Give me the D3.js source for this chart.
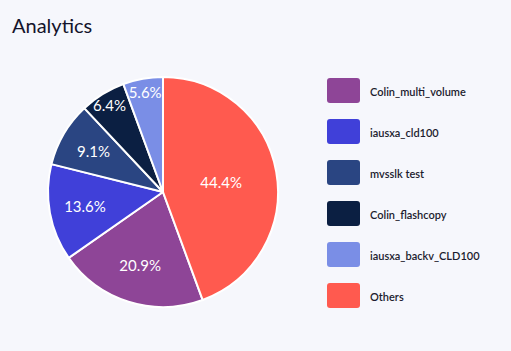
<!DOCTYPE html>
<html>
<head>
<meta charset="utf-8">
<script src="https://cdn.jsdelivr.net/npm/d3@7"></script>
<style>
  html, body { margin: 0; padding: 0; background: #f6f7fc; }
  #chart { width: 511px; height: 351px; }
  text { font-family: Lato, "Open Sans", sans-serif; }
</style>
</head>
<body>
<div id="chart"></div>
<script>
// data
const categories = ['Colin_multi_volume', 'iausxa_cld100', 'mvsslk test', 'Colin_flashcopy', 'iausxa_backv_CLD100', 'Others'];
const shares = [20.9, 13.6, 9.1, 6.4, 5.6, 44.4];
const colors = ['#8e4597', '#4040d9', '#2a4582', '#0b1f42', '#7a8ee6', '#ff5a4f'];

const W = 511, H = 351;
const cx = 163, cy = 192, radius = 115;

const svg = d3.select('#chart').append('svg')
  .attr('width', W).attr('height', H);

svg.append('text')
  .attr('x', 12).attr('y', 33)
  .attr('font-size', '20px')
  .attr('fill', '#14142b')
  .text('Analytics');

const data = categories.map((c, i) => ({ name: c, value: shares[i], color: colors[i] }));

// largest slice first, clockwise from 12 o'clock
const pie = d3.pie().value(d => d.value).sort((a, b) => b.value - a.value);
const arcs = pie(data);
const arc = d3.arc().innerRadius(0).outerRadius(radius);

const g = svg.append('g').attr('transform', `translate(${cx},${cy})`);

g.selectAll('path')
  .data(arcs)
  .join('path')
  .attr('d', arc)
  .attr('fill', d => d.data.color)
  .attr('stroke', '#ffffff')
  .attr('stroke-width', 2);

// labels sit near the sector centroid, pushed outward when the slice is too narrow
function labelRadius(d, textW) {
  const theta = d.endAngle - d.startAngle;
  const centroid = (2 * radius * Math.sin(theta / 2)) / (1.5 * theta) + 5;
  const fit = (textW + 8) / theta;
  return Math.min(Math.max(centroid, fit), radius - 13);
}

g.selectAll('.slice-label')
  .data(arcs)
  .join('text')
  .attr('class', 'slice-label')
  .attr('text-anchor', 'middle')
  .attr('dominant-baseline', 'central')
  .attr('font-size', '15px')
  .attr('fill', '#ffffff')
  .text(d => d.data.value.toFixed(1) + '%')
  .each(function (d) {
    const w = this.getComputedTextLength();
    const r = labelRadius(d, w);
    const a = (d.startAngle + d.endAngle) / 2;
    d3.select(this)
      .attr('x', Math.sin(a) * r)
      .attr('y', -Math.cos(a) * r);
  });

// Legend
const legend = svg.append('g').attr('transform', 'translate(327, 78)');

const row = legend.selectAll('g')
  .data(data)
  .join('g')
  .attr('transform', (d, i) => `translate(0, ${i * 41})`);

row.append('rect')
  .attr('width', 33).attr('height', 25)
  .attr('rx', 3)
  .attr('fill', d => d.color);

row.append('text')
  .attr('x', 43).attr('y', 13)
  .attr('dominant-baseline', 'central')
  .attr('font-size', '11px')
  .attr('font-weight', 600)
  .attr('fill', '#1c1c2e')
  .text(d => d.name);
</script>
</body>
</html>
